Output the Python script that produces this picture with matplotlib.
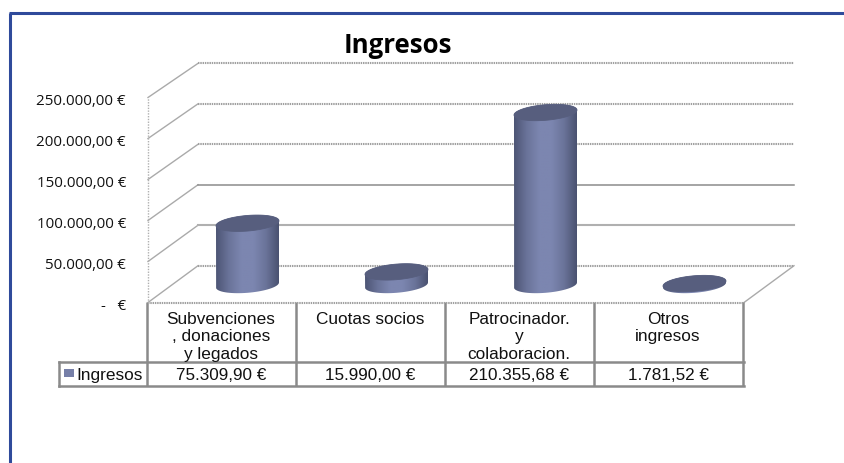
import numpy as np
import matplotlib
matplotlib.use("Agg")
import matplotlib.pyplot as plt
from matplotlib.patches import PathPatch, Rectangle
from matplotlib.path import Path
from matplotlib.transforms import Affine2D
from matplotlib.colors import LinearSegmentedColormap

title = "Ingresos"
series_name = "Ingresos"
categories = ["Subvenciones\n, donaciones\ny legados", "Cuotas socios",
              "Patrocinador.\ny\ncolaboracion.", "Otros\ningresos"]
values = [75309.90, 15990.00, 210355.68, 1781.52]
value_labels = ["75.309,90 €", "15.990,00 €", "210.355,68 €", "1.781,52 €"]
yticks = [0, 50000, 100000, 150000, 200000, 250000]
ytick_labels = ["-   €", "50.000,00 €", "100.000,00 €", "150.000,00 €", "200.000,00 €", "250.000,00 €"]
DOT = (0, (0.7, 0.4))
grid_styles = {0: ("#a0a0a0", DOT, 1.5), 50000: ("#b0b0b0", "-", 1.5), 100000: ("#8c8c8c", "-", 1.1),
               150000: ("#a0a0a0", DOT, 1.5), 200000: ("#a0a0a0", DOT, 1.5),
               250000: ("#a0a0a0", DOT, 1.5)}

W, H = 844, 464
fig = plt.figure(figsize=(W / 100, H / 100), dpi=100, facecolor="white")

# overlay in pixel coordinates for the frame and the data table
bg = fig.add_axes([0, 0, 1, 1], zorder=0)
bg.set_xlim(0, W); bg.set_ylim(H, 0); bg.axis("off")
FRAME = "#2F4A9B"
bg.plot([9.7, 9.7], [H, 14], color=FRAME, lw=2.2, solid_capstyle="butt")
bg.plot([8.5, W], [14, 14], color=FRAME, lw=2.2, solid_capstyle="butt")
bg.text(398, 53.3, title, fontsize=18.6, fontweight="bold", family="Open Sans", ha="center", va="baseline", color="black")

# main axes: front plane of the 3D box
L, R, T, B = 148, 744, 98.5, 303.5
ax = fig.add_axes([L / W, 1 - B / H, (R - L) / W, (B - T) / H], zorder=1)
ax.set_xlim(-0.5, 3.5)
ax.set_ylim(0, 250000)
ax.patch.set_alpha(0)
for s in ax.spines.values():
    s.set_visible(False)
ax.set_xticks([])
ax.set_yticks(yticks, [""] * len(yticks))
ax.tick_params(axis="y", length=0)
label_shift = ax.transData + Affine2D().translate(-22, -3.3)
for v, lab in zip(yticks, ytick_labels):
    ax.text(-0.5, v, lab, transform=label_shift, ha="right", va="center", family="Open Sans",
            fontsize=10.9, color="#111111", clip_on=False)

depth_back = Affine2D().translate(0, -(H - B)).scale(1, 0.987).translate(50, H - 266.7)
depth_mid = Affine2D().translate(25, 17.5)
backT = ax.transData + depth_back
midT = ax.transData + depth_mid

for v in yticks:
    c, ls, lw = grid_styles[v]
    ax.plot([-0.5, 3.5], [v, v], transform=backT, color=c, ls=ls, lw=lw, clip_on=False, zorder=1)
    x0, y0 = ax.transData.transform((-0.5, v))
    x1, y1 = backT.transform((-0.5, v))
    bg.plot([x0, x1], [H - y0, H - y1], color="#aaaaaa", lw=1.0, zorder=2)

# floor edges and left wall
x0, y0 = ax.transData.transform((3.5, 0))
x1, y1 = backT.transform((3.5, 0))
bg.plot([x0, x1], [H - y0, H - y1], color="#aaaaaa", lw=1.0, zorder=2)
ax.plot([-0.5, 3.5], [0, 0], color="#a0a0a0", ls=DOT, lw=1.5, clip_on=False, zorder=1)
ax.plot([-0.5, -0.5], [0, 250000], color="#b0b0b0", ls=(0, (1, 1)), lw=1.0, clip_on=False, zorder=1)

# cylinders
px_x = (R - L) / 4
px_y = (B - T) / 250000
rx, ry, tilt = 31.5 / px_x, 7.8 / px_y, 2.5 / px_y
cmap = LinearSegmentedColormap.from_list("cyl", ["#4d5575", "#6a7399", "#7c86b0", "#7c86b0", "#6a7399", "#4a5270"])
grad = np.linspace(0, 1, 128).reshape(1, -1)
t = np.linspace(0, 2 * np.pi, 73)


def ell(i, v):
    return np.column_stack([i + rx * np.cos(t), v + ry * np.sin(t) + tilt * np.cos(t)])


for i, v in enumerate(values):
    top, bot = ell(i, v), ell(i, 0)
    body = np.vstack([bot[37:73], top[0:37]])
    clip = PathPatch(Path(np.vstack([body, body[:1]])), transform=midT, fc="none", ec="none")
    ax.add_patch(clip)
    im = ax.imshow(grad, cmap=cmap, aspect="auto", extent=(i - rx, i + rx, -ry - tilt, v + ry + tilt),
                   transform=midT, zorder=3, interpolation="bilinear")
    im.set_clip_path(clip)
    ax.add_patch(PathPatch(Path(top), transform=midT, fc="#575e7e", ec="#575e7e", lw=0.6, zorder=4, clip_on=False))
ax.set_xlim(-0.5, 3.5)
ax.set_ylim(0, 250000)

# data table
TC = "#8a8a8a"
xb = [L - 1.5 + 149 * k for k in range(5)]
y_top, y_mid, y_bot = 303, 363, 387
LEG = 58.5
for x in xb:
    bg.plot([x, x], [y_top, y_bot], color=TC, lw=1.8, zorder=3, solid_capstyle="butt")
bg.plot([LEG, xb[-1] + 1], [y_mid, y_mid], color=TC, lw=1.8, zorder=3)
bg.plot([LEG, xb[-1] + 1], [y_bot, y_bot], color=TC, lw=1.8, zorder=3)
bg.plot([LEG, LEG], [y_mid, y_bot], color=TC, lw=1.8, zorder=3)
bg.add_patch(Rectangle((64, 370), 10, 7.5, fc="#767fa8", ec="none", zorder=3))
bg.text(76.5, 376, series_name, family="Liberation Sans", fontsize=12.4, ha="left", va="center", color="#111111")
for k, (c, vl) in enumerate(zip(categories, value_labels)):
    cx = (xb[k] + xb[k + 1]) / 2
    bg.text(cx, 312, c, family="Liberation Sans", fontsize=12.4, ha="center", va="top",
            linespacing=1.19, color="#111111")
    bg.text(cx + 0.5, 375.5, vl, family="Liberation Sans", fontsize=12.3, ha="center", va="center", color="#111111")

fig.savefig("out.png", dpi=100, facecolor="white")
